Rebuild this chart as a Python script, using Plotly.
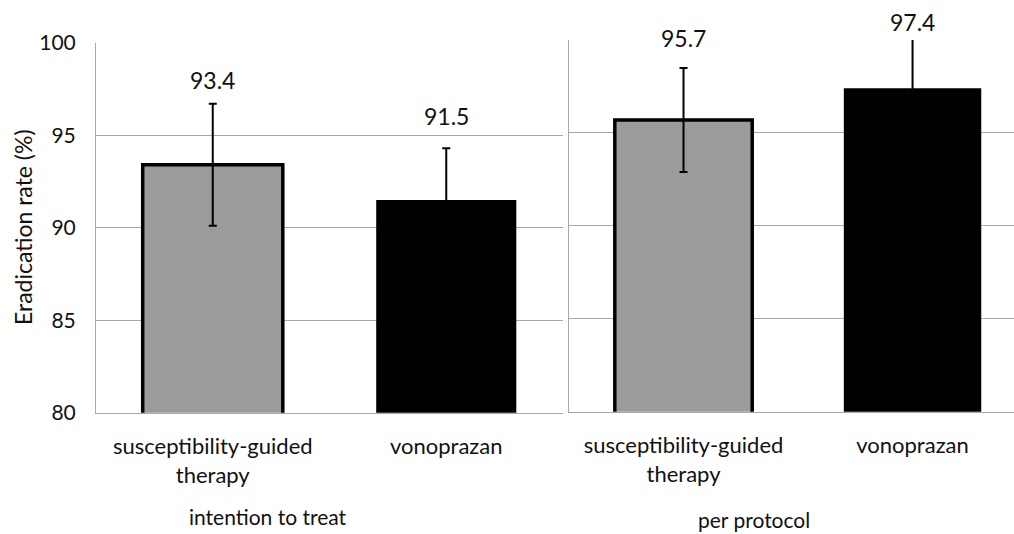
import plotly.graph_objects as go

# ---- data ----
categories = ["susceptibility-guided<br>therapy", "vonoprazan"]
groups = ["intention to treat", "per protocol"]
itt_rates = [93.4, 91.5]
itt_err = [3.3, 2.8]
pp_rates = [95.7, 97.4]
pp_err = [2.8, 2.8]
y_ticks = [80, 85, 90, 95, 100]
y_title = "Eradication rate (%)"

# ---- styles ----
bar_colors = ["#9b9b9b", "#000000"]
line_widths = [3.5, 0]
grid_col = "#a8a8a8"
txt_col = "#111111"
FONT = "Lato"
W, H = 1014, 534
y_min, y_max = 80, 100

fig = go.Figure()

panels = [
    dict(rates=itt_rates, err=itt_err, xa="x", ya="y", shifts=[24, 32]),
    dict(rates=pp_rates, err=pp_err, xa="x2", ya="y2", shifts=[30, 18]),
]

for p in panels:
    fig.add_trace(go.Bar(
        x=categories, y=p["rates"], base=0,
        xaxis=p["xa"], yaxis=p["ya"],
        marker=dict(color=bar_colors, line=dict(color="#000000", width=line_widths)),
        error_y=dict(type="data", array=p["err"], color="#000000", thickness=2, width=4),
        width=0.6, showlegend=False, hoverinfo="skip",
    ))
    for cat, v, e, s in zip(categories, p["rates"], p["err"], p["shifts"]):
        fig.add_annotation(
            x=cat, y=min(v + e, y_max), xref=p["xa"], yref=p["ya"],
            text=f"{v:.1f}", showarrow=False, xanchor="center", yanchor="middle",
            yshift=s, font=dict(family=FONT, size=23, color=txt_col),
        )

def px_x(p):
    return p / W

def px_y(p):
    return 1 - p / H

axis_common = dict(showline=True, linecolor=grid_col, linewidth=1, mirror=False,
                   automargin=False)

fig.update_layout(
    width=W, height=H,
    margin=dict(l=0, r=0, t=0, b=0, autoexpand=False),
    paper_bgcolor="white", plot_bgcolor="white",
    font=dict(family=FONT, size=22, color=txt_col),
    bargap=0.4,
    xaxis=dict(domain=[px_x(96), px_x(563)], range=[-0.5, 1.5], anchor="y",
               tickfont=dict(size=22), ticks="", ticklabelstandoff=14, **axis_common),
    xaxis2=dict(domain=[px_x(569), 1.0], range=[-0.5, 1.443], anchor="y2",
                tickfont=dict(size=22), ticks="", ticklabelstandoff=14, **axis_common),
    yaxis=dict(domain=[px_y(412.7), px_y(42.7)], range=[y_min, y_max], anchor="x",
               tickvals=y_ticks, showgrid=True, gridcolor=grid_col, gridwidth=1,
               zeroline=False, ticks="", ticklabelstandoff=15,
               tickfont=dict(size=21), **axis_common),
    yaxis2=dict(domain=[px_y(411.7), px_y(40)], range=[y_min, y_max], anchor="x2",
                tickvals=y_ticks, showgrid=True, gridcolor=grid_col, gridwidth=1,
                zeroline=False, showticklabels=False, ticks="", **axis_common),
)

# y-axis title
fig.add_annotation(x=px_x(23), y=px_y(227), xref="paper", yref="paper",
                   text=y_title, textangle=-90, showarrow=False,
                   xanchor="center", yanchor="middle",
                   font=dict(family=FONT, size=23, color=txt_col))

# group labels
for g, cx, cy in zip(groups, [268, 754], [516, 519]):
    fig.add_annotation(x=px_x(cx), y=px_y(cy), xref="paper", yref="paper",
                       text=g, showarrow=False, xanchor="center", yanchor="middle",
                       font=dict(family=FONT, size=21, color=txt_col))

fig.write_html("out.html", config={"displayModeBar": False},
               post_script="document.body.style.margin='0px';")
